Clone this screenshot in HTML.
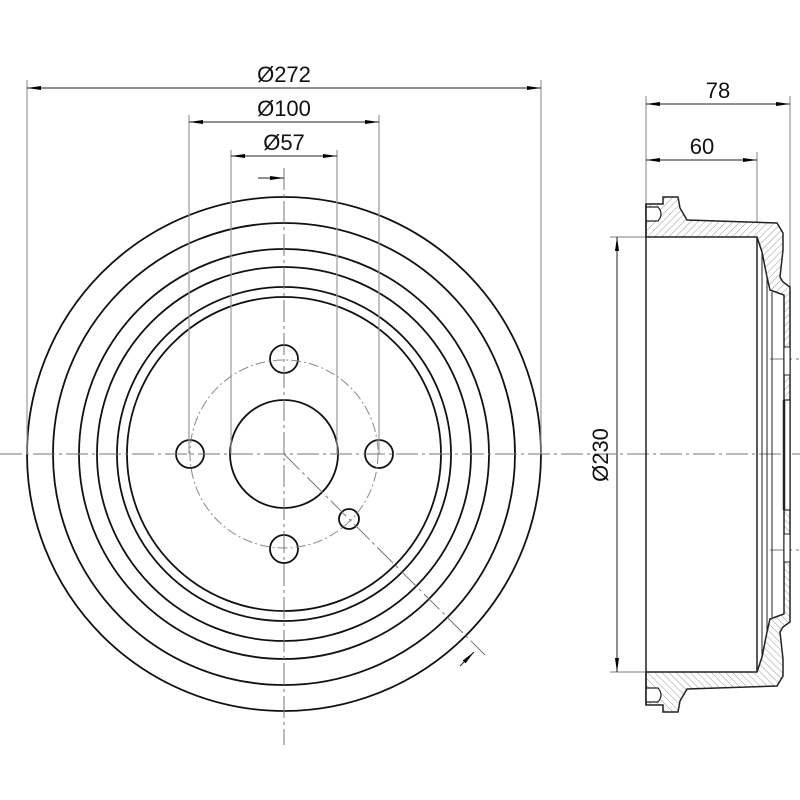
<!DOCTYPE html>
<html><head><meta charset="utf-8"><style>html,body{margin:0;padding:0;background:#fff}svg{display:block}</style></head><body>
<svg width="800" height="800" viewBox="0 0 800 800" xmlns="http://www.w3.org/2000/svg" font-family="Liberation Sans, sans-serif">
<defs>
<pattern id="h" patternUnits="userSpaceOnUse" width="5" height="5" patternTransform="rotate(45)"><rect width="5" height="5" fill="#fff"/><line x1="0" y1="0" x2="0" y2="5" stroke="#999" stroke-width="1"/></pattern>
<marker id="a" markerWidth="14" markerHeight="6" refX="14" refY="3" orient="auto" markerUnits="userSpaceOnUse"><path d="M0,1 L14,3 L0,5 Z" fill="#000"/></marker>
</defs>
<g fill="none" stroke="#111" stroke-width="1.8">
<circle cx="284" cy="454" r="257"/><circle cx="284" cy="454" r="231"/><circle cx="284" cy="454" r="205"/><circle cx="284" cy="454" r="187"/><circle cx="284" cy="454" r="167"/><circle cx="284" cy="454" r="157"/>
<circle cx="284" cy="454" r="54"/>
<circle cx="284" cy="359" r="14"/><circle cx="284" cy="549" r="14"/><circle cx="190" cy="454" r="14"/><circle cx="379" cy="454" r="14"/>
<circle cx="349" cy="519" r="10"/>
</g>
<circle cx="284" cy="454" r="94" fill="none" stroke="#888" stroke-width="1" stroke-dasharray="10,3,2,3"/>
<g stroke="#777" stroke-width="1" stroke-dasharray="22,4,3,4" fill="none">
<line x1="0" y1="454" x2="800" y2="454"/>
<line x1="284" y1="168" x2="284" y2="745"/>
<line x1="284" y1="454" x2="485" y2="655"/>
<line x1="770" y1="359" x2="800" y2="359"/><line x1="770" y1="550" x2="800" y2="550"/>
</g>
<g stroke="#999" stroke-width="1.2" fill="none">
<line x1="27" y1="80" x2="27" y2="454"/><line x1="541" y1="80" x2="541" y2="454"/>
<line x1="189" y1="115" x2="189" y2="454"/><line x1="379" y1="115" x2="379" y2="454"/>
<line x1="231" y1="150" x2="231" y2="454"/><line x1="337" y1="150" x2="337" y2="454"/>
<line x1="646" y1="96" x2="646" y2="204"/><line x1="790" y1="96" x2="790" y2="287"/><line x1="757" y1="152" x2="757" y2="237"/>
<line x1="610" y1="237" x2="646" y2="237"/><line x1="610" y1="672" x2="646" y2="672"/>
</g>
<g stroke="#222" stroke-width="1" fill="none">
<line x1="284" y1="88" x2="27" y2="88" marker-end="url(#a)"/><line x1="284" y1="88" x2="541" y2="88" marker-end="url(#a)"/>
<line x1="284" y1="122" x2="189" y2="122" marker-end="url(#a)"/><line x1="284" y1="122" x2="379" y2="122" marker-end="url(#a)"/>
<line x1="284" y1="156" x2="231" y2="156" marker-end="url(#a)"/><line x1="284" y1="156" x2="337" y2="156" marker-end="url(#a)"/>
<line x1="258" y1="178" x2="284" y2="178" marker-end="url(#a)"/>
<line x1="460" y1="666" x2="474" y2="652" marker-end="url(#a)"/>
<line x1="718" y1="104" x2="646" y2="104" marker-end="url(#a)"/><line x1="718" y1="104" x2="790" y2="104" marker-end="url(#a)"/>
<line x1="702" y1="160" x2="646" y2="160" marker-end="url(#a)"/><line x1="702" y1="160" x2="757" y2="160" marker-end="url(#a)"/>
<line x1="617" y1="455" x2="617" y2="237" marker-end="url(#a)"/><line x1="617" y1="455" x2="617" y2="672" marker-end="url(#a)"/>
</g>
<g font-size="22" fill="#111" text-anchor="middle">
<text x="284" y="82">Ø272</text><text x="284" y="116">Ø100</text><text x="284" y="150">Ø57</text>
<text x="718" y="98">78</text><text x="702" y="154">60</text>
<text x="0" y="0" transform="translate(608,455) rotate(-90)">Ø230</text>
</g>
<g stroke="#222" stroke-width="1.5">
<g id="top">
<path d="M646,204 L663,204 L663,197 L678,197 L680,208 L687,220 L777,223 L783,233 L783,250 L780,277 L783,282 L790,287 L790,454 L784,454 L784,295 L770,290 L767,277 L762,252 L757,237 L646,237 Z" fill="url(#h)"/>
<path d="M646,207 L658,207 Q664,214 658,221 L646,221 Z" fill="#fff" stroke-width="1.2"/>
<rect x="784" y="347" width="6" height="28" fill="#fff" stroke-width="1"/>
</g>
<use href="#top" transform="translate(0,909) scale(1,-1)"/>
<rect x="784" y="400" width="6" height="110" fill="#fff" stroke-width="1.2"/>
<line x1="784" y1="400" x2="784" y2="510" stroke-width="2.5"/>
<line x1="646" y1="204" x2="646" y2="705"/>
<line x1="757" y1="237" x2="757" y2="672"/>
<line x1="762" y1="252" x2="762" y2="657" stroke-width="1"/>
<line x1="767" y1="277" x2="767" y2="632" stroke-width="1"/>
<line x1="772" y1="292" x2="772" y2="617" stroke-width="1"/>
</g>
</svg>
</body></html>
